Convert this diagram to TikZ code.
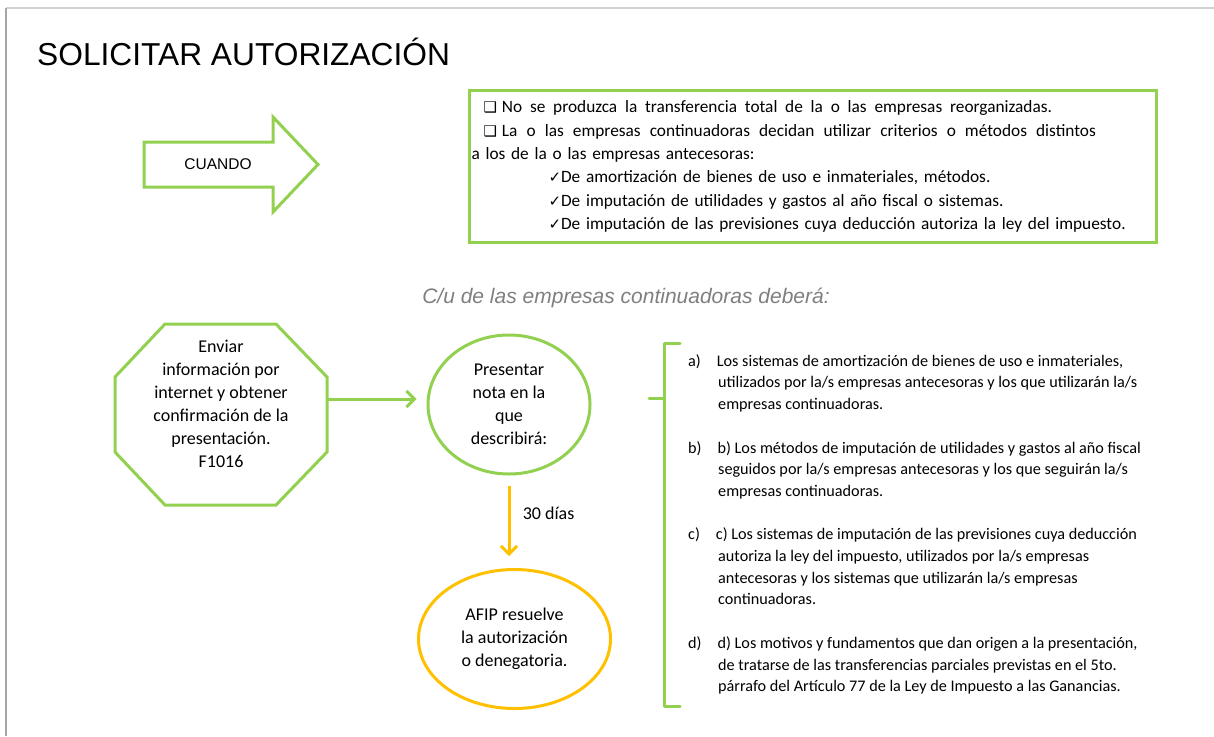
\documentclass[tikz,border=0pt]{standalone}
\usepackage{fontspec}
\setmainfont{Carlito}
\newfontfamily\arialfont{Liberation Sans}
\newfontfamily\simbolos{DejaVu Sans}
\usepackage{tikz}
\usetikzlibrary{arrows.meta, positioning, shapes.geometric}
\definecolor{verde}{HTML}{92D050}
\definecolor{naranja}{HTML}{FFC000}
\definecolor{grisletra}{HTML}{7F7F7F}
\newcommand{\caja}{{\simbolos\fontsize{15}{15}\selectfont ❑}}
\newcommand{\visto}{{\simbolos\fontsize{15}{15}\selectfont ✓}}
\newcommand{\estirar}[2]{\makebox[#1][s]{\spaceskip=3.9pt plus 1fill\relax #2}}
\tikzset{
    contorno/.style={draw=verde, line width=3pt},
    textoforma/.style={font=\fontsize{18}{23}\selectfont, align=center, inner sep=0pt},
    elipse/.style={ellipse, line width=3pt, textoforma},
    flecha/.style={line width=3pt, -{Straight Barb[length=8pt, width=16pt]}},
    lista/.style={font=\fontsize{16.2}{21.7}\selectfont, align=left, inner sep=0pt, anchor=north west}
}

\begin{document}
\begin{tikzpicture}[x=1pt, y=-1pt]
    \useasboundingbox (0,0) rectangle (1214,736);
    % marco de la diapositiva
    \draw[gray!35, line width=2pt] (6,8) -- (1214,8);
    \draw[gray!70, line width=2pt] (6,8) -- (6,736);

    \node[anchor=base west, inner sep=0pt, font=\arialfont\fontsize{31.7}{32}\selectfont] (titulo) at (37,65) {SOLICITAR AUTORIZACIÓN};

    % flecha CUANDO
    \draw[contorno, line join=miter] (144,142) -- (273,142) -- (273,117) -- (318,164.5)
        -- (273,212) -- (273,187) -- (144,187) -- cycle;
    \node[font=\arialfont\fontsize{15.5}{16}\selectfont] (cuando) at (218,164.5) {CUANDO};

    % condiciones
    \node[contorno, anchor=north west, minimum width=687pt, minimum height=152pt,
          inner xsep=2pt, text width=683pt, align=left, font=\fontsize{17.3}{23.4}\selectfont]
          (condiciones) at (468,89) {%
        \hspace*{12pt}\caja\hspace{5pt}\estirar{550pt}{No se produzca la transferencia total de la o las empresas reorganizadas.}\\
        \hspace*{12pt}\caja\hspace{5pt}\estirar{594pt}{La o las empresas continuadoras decidan utilizar criterios o métodos distintos}\\
        a los de la o las empresas antecesoras:\\
        \hspace*{77pt}\visto De amortización de bienes de uso e inmateriales, métodos.\\
        \hspace*{77pt}\visto De imputación de utilidades y gastos al año fiscal o sistemas.\\
        \hspace*{77pt}\visto De imputación de las previsiones cuya deducción autoriza la ley del impuesto.};

    \node[font=\arialfont\itshape\fontsize{21}{22}\selectfont, text=grisletra] (subtitulo) at (626,298)
        {C/u de las empresas continuadoras deberá:};

    % octagono
    \coordinate (o1) at (165,324);
    \coordinate (o2) at (276,324);
    \coordinate (o3) at (327,377);
    \coordinate (o4) at (327,452);
    \coordinate (o5) at (276,505);
    \coordinate (o6) at (165,505);
    \coordinate (o7) at (115,452);
    \coordinate (o8) at (115,377);
    \draw[contorno, line join=miter] (o1) -- (o2) -- (o3) -- (o4) -- (o5) -- (o6) -- (o7) -- (o8) -- cycle;
    \node[textoforma] (enviar) at (221,403.5) {Enviar\\información por\\internet y obtener\\confirmación de la\\presentación.\\F1016};

    % pasos
    \node[elipse, draw=verde, minimum width=162pt, minimum height=139pt] (presentar) at (509,404.5)
        {Presentar\\nota en la\\que\\describirá:};
    \node[elipse, draw=naranja, minimum width=192pt, minimum height=139pt] (afip) at (514.5,639)
        {AFIP resuelve\\la autorización\\o denegatoria.};

    \coordinate (salida) at (327,399);
    \draw[flecha, verde, shorten >=10pt] (salida) -- (salida -| presentar.west);
    \draw[flecha, naranja, shorten <=10pt, shorten >=12pt] (presentar.south) -- (presentar.south |- afip.north)
        node[pos=0.41, right=9pt, font=\fontsize{18}{23}\selectfont, text=black] (plazo) {30 días};

    % llave
    \draw[contorno, line join=round, line cap=round] (680,343) -- (664,343) -- (664,706) -- (680,706);
    \draw[contorno, line cap=round] (649,398) -- (664,398);

    \node[lista] (lista) at (688,350.8) {%
        \strut a)\hspace*{16pt}Los sistemas de amortización de bienes de uso e inmateriales,\\
        \hspace*{30pt}utilizados por la/s empresas antecesoras y los que utilizarán la/s\\
        \hspace*{30pt}empresas continuadoras.\\[21.7pt]
        b)\hspace*{16pt}b) Los métodos de imputación de utilidades y gastos al año fiscal\\
        \hspace*{30pt}seguidos por la/s empresas antecesoras y los que seguirán la/s\\
        \hspace*{30pt}empresas continuadoras.\\[21.7pt]
        c)\hspace*{16pt}c) Los sistemas de imputación de las previsiones cuya deducción\\
        \hspace*{30pt}autoriza la ley del impuesto, utilizados por la/s empresas\\
        \hspace*{30pt}antecesoras y los sistemas que utilizarán la/s empresas\\
        \hspace*{30pt}continuadoras.\\[21.7pt]
        d)\hspace*{16pt}d) Los motivos y fundamentos que dan origen a la presentación,\\
        \hspace*{30pt}de tratarse de las transferencias parciales previstas en el 5to.\\
        \hspace*{30pt}párrafo del Artículo 77 de la Ley de Impuesto a las Ganancias.};
\end{tikzpicture}
\end{document}
